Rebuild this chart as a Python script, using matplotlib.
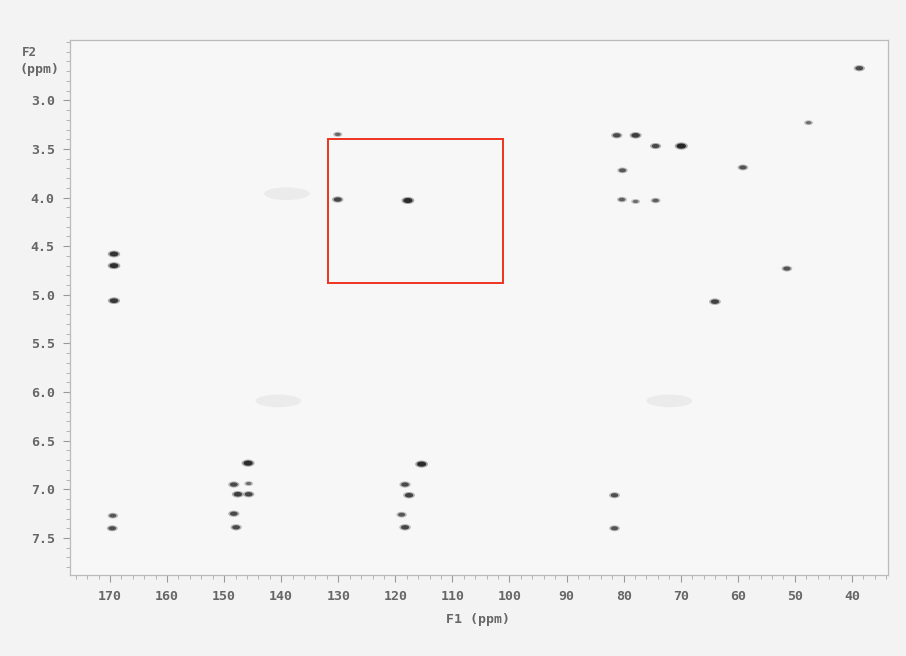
import numpy as np
import matplotlib
matplotlib.use("Agg")
from matplotlib import pyplot as plt
from matplotlib.path import Path
from matplotlib.patches import Rectangle, Ellipse
from matplotlib.ticker import MultipleLocator

# cross peaks: F1 (13C, ppm), F2 (1H, ppm), relative intensity
f1 = [38.7, 81.2, 77.9, 74.4, 69.9, 80.2, 59.1, 80.3, 77.9, 74.4, 47.6,
      51.4, 64.0, 81.6, 81.6, 115.4, 118.3, 117.6, 118.9, 118.3, 130.1,
      117.8, 130.1, 169.3, 169.3, 169.3, 169.5, 169.6, 145.8, 148.3,
      147.6, 145.7, 148.3, 147.9, 145.7]
f2 = [2.67, 3.36, 3.36, 3.47, 3.47, 3.72, 3.69, 4.02, 4.04, 4.03, 3.23,
      4.73, 5.07, 7.06, 7.40, 6.74, 6.95, 7.06, 7.26, 7.39, 4.02,
      4.03, 3.35, 4.58, 4.70, 5.06, 7.27, 7.40, 6.73, 6.95,
      7.05, 7.05, 7.25, 7.39, 6.94]
inten = [0.6, 0.6, 0.75, 0.6, 1.0, 0.45, 0.5, 0.35, 0.2, 0.35, 0.2,
         0.5, 0.7, 0.55, 0.5, 0.95, 0.6, 0.7, 0.45, 0.65, 0.65,
         0.95, 0.25, 0.85, 0.9, 0.8, 0.45, 0.55, 0.95, 0.6,
         0.75, 0.65, 0.6, 0.6, 0.2]

# faint smudges on the scan (F1, F2)
smudge_f1 = [140.5, 72.0, 139.0]
smudge_f2 = [6.09, 6.09, 3.96]

x_ticks = [170, 160, 150, 140, 130, 120, 110, 100, 90, 80, 70, 60, 50, 40]
y_ticks = [3.0, 3.5, 4.0, 4.5, 5.0, 5.5, 6.0, 6.5, 7.0, 7.5]

# highlighted region (F1 left, F1 right, F2 top, F2 bottom)
box = (131.8, 101.2, 3.40, 4.88)

fig = plt.figure(figsize=(9.06, 6.56), dpi=100, facecolor="#f3f3f3")
ax = fig.add_axes([0.0773, 0.1235, 0.9027, 0.8155])
ax.set_facecolor("#f7f7f7")

ax.set_xlim(177.0, 33.7)
ax.set_ylim(7.88, 2.38)

# smudges
for sx, sy in zip(smudge_f1, smudge_f2):
    ax.add_patch(Ellipse((sx, sy), 8.0, 0.13, facecolor="#ebebeb",
                         edgecolor="none", zorder=1))

# elliptical marker, wider than tall; soft halo + dark core
t = np.linspace(0, 2 * np.pi, 40)
ell = Path(np.column_stack([np.cos(t), 0.55 * np.sin(t)]))
inten = np.array(inten)
halo = [(0.72 - 0.2 * v,) * 3 for v in inten]
core = [(0.50 - 0.35 * v,) * 3 for v in inten]
ax.scatter(f1, f2, s=30 + 60 * inten, marker=ell, c=halo, linewidths=0,
           alpha=0.7, zorder=3)
ax.scatter(f1, f2, s=10 + 35 * inten, marker=ell, c=core, linewidths=0,
           zorder=3)

x0, x1, y0, y1 = box
ax.add_patch(Rectangle((x0, y0), x1 - x0, y1 - y0, fill=False,
                       edgecolor="#ee3322", linewidth=1.4, zorder=4))

ax.set_xticks(x_ticks)
ax.set_yticks(y_ticks)
ax.set_xticklabels([str(v) for v in x_ticks])
ax.set_yticklabels(["%.1f" % v for v in y_ticks])
ax.xaxis.set_minor_locator(MultipleLocator(2))
ax.yaxis.set_minor_locator(MultipleLocator(0.1))

mono = "DejaVu Sans Mono"
for lab in ax.get_xticklabels() + ax.get_yticklabels():
    lab.set_fontfamily(mono)
    lab.set_fontsize(9.5)
    lab.set_fontweight("bold")
    lab.set_color("#666666")

ax.tick_params(which="major", length=5, width=0.8, color="#999999", pad=6)
ax.tick_params(which="minor", length=3, width=0.6, color="#aaaaaa")
for sp in ax.spines.values():
    sp.set_color("#bbbbbb")
    sp.set_linewidth(0.9)

fig.text(478 / 906, 1 - 620 / 656, "F1 (ppm)", family=mono, fontsize=9.5,
         weight="bold", color="#666666", ha="center", va="center")
fig.text(22 / 906, 1 - 52 / 656, "F2", family=mono, fontsize=9,
         weight="bold", color="#666666", ha="left", va="center")
fig.text(20 / 906, 1 - 70 / 656, "(ppm)", family=mono, fontsize=9.5,
         weight="bold", color="#666666", ha="left", va="center")

fig.savefig("out.png", dpi=100, facecolor=fig.get_facecolor())
